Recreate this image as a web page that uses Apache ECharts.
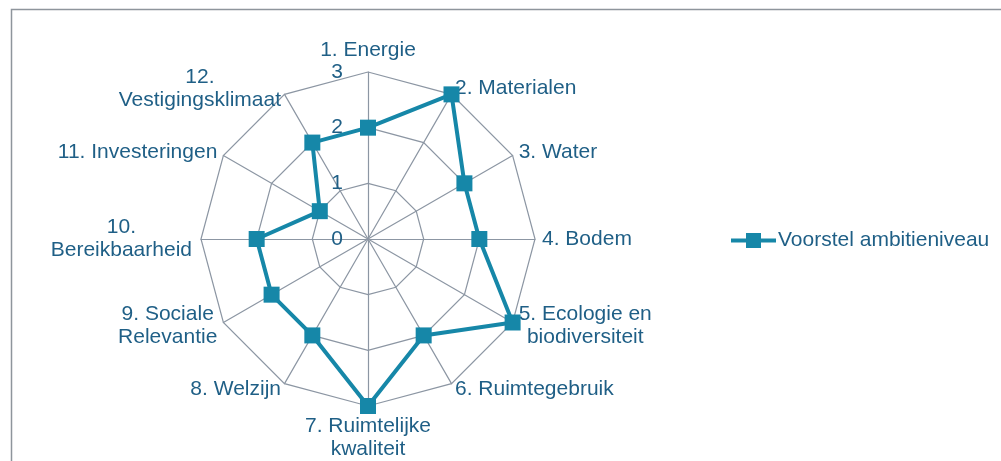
<!DOCTYPE html>
<html>
<head>
<meta charset="utf-8">
<style>
  html, body { margin: 0; padding: 0; background: #ffffff; }
  #chart { width: 1001px; height: 461px; }
</style>
<script src="https://cdn.jsdelivr.net/npm/echarts@6/dist/echarts.min.js"></script>
</head>
<body>
<div id="chart"></div>
<script>
// Ambition themes, clockwise from the top
const categories = [
  '1. Energie',
  '2. Materialen',
  '3. Water',
  '4. Bodem',
  '5. Ecologie en\nbiodiversiteit',
  '6. Ruimtegebruik',
  '7. Ruimtelijke\nkwaliteit',
  '8. Welzijn',
  '9. Sociale\nRelevantie',
  '10.\nBereikbaarheid',
  '11. Investeringen',
  '12.\nVestigingsklimaat'
];
const seriesName = 'Voorstel ambitieniveau';
const ambitionLevels = [2, 3, 2, 2, 3, 2, 3, 2, 2, 2, 1, 2];
const scaleMin = 0;
const scaleMax = 3;

const textColor = '#1f5f86';
const lineColor = '#1687a8';
const gridColor = '#8c96a3';
const fontFamily = 'Liberation Sans, Arial, sans-serif';
const fontSize = 21;

// ECharts lays radar axes out counter-clockwise, so feed them in reverse
// after the first one to get the themes running clockwise.
const order = [0];
for (let i = categories.length - 1; i >= 1; i--) order.push(i);

const indicators = order.map(function (i) {
  const ind = { name: categories[i], min: scaleMin, max: scaleMax };
  if (i === 0) {
    ind.axisLabel = {
      show: true, margin: 25, color: textColor,
      fontSize: fontSize, fontFamily: fontFamily
    };
    ind.nameGap = 4;
  }
  if (i === 6 || i === 9) ind.nameGap = 9;
  return ind;
});
const orderedValues = order.map(function (i) { return ambitionLevels[i]; });

const chart = echarts.init(document.getElementById('chart'), null, { renderer: 'canvas' });
chart.setOption({
  animation: false,
  backgroundColor: '#ffffff',
  graphic: [{
    type: 'rect',
    shape: { x: 11.5, y: 9.5, width: 1200, height: 600 },
    style: { fill: 'none', stroke: '#8e959c', lineWidth: 1.5 },
    silent: true
  }],
  legend: {
    orient: 'vertical',
    left: 726,
    top: 225,
    itemWidth: 45,
    itemHeight: 15,
    itemGap: 0,
    icon: 'path://M0,5.5H45V9.5H0Z M15,0H30V15H15Z',
    textStyle: { color: textColor, fontSize: fontSize, fontFamily: fontFamily, padding: [0, 0, 0, -3] },
    data: [seriesName]
  },
  radar: {
    center: [368, 239],
    radius: 167,
    startAngle: 90,
    splitNumber: 3,
    shape: 'polygon',
    indicator: indicators,
    axisNameGap: 7,
    axisName: {
      color: textColor,
      fontSize: fontSize,
      fontFamily: fontFamily,
      lineHeight: 24,
      formatter: function (v) { return '{c|' + v.split('\n').join('}\n{c|') + '}'; },
      rich: {
        c: { align: 'center', color: textColor, fontSize: fontSize, fontFamily: fontFamily, lineHeight: 23 }
      }
    },
    axisLine: { lineStyle: { color: gridColor, width: 1.2 } },
    splitLine: { lineStyle: { color: gridColor, width: 1.2 } },
    splitArea: { show: false },
    axisTick: { show: false },
    axisLabel: { show: false }
  },
  series: [{
    type: 'radar',
    name: seriesName,
    symbol: 'rect',
    symbolSize: 16,
    lineStyle: { color: lineColor, width: 4 },
    itemStyle: { color: lineColor },
    data: [{ name: seriesName, value: orderedValues }]
  }]
});
</script>
</body>
</html>
